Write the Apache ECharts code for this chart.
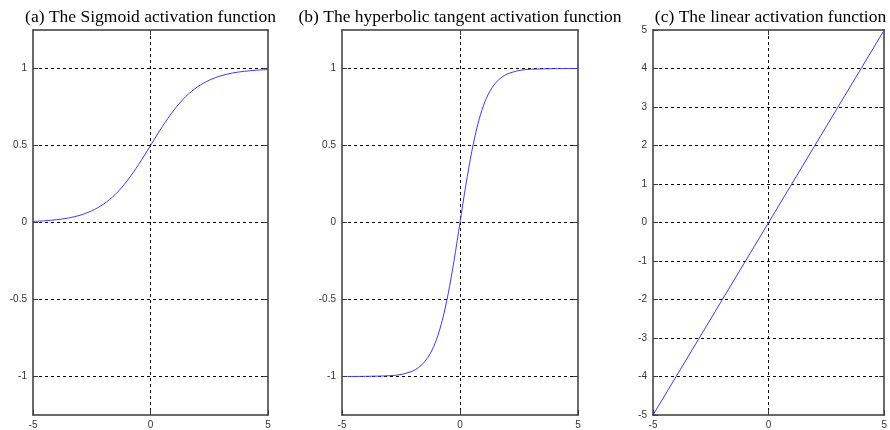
<!DOCTYPE html>
<html>
<head>
<meta charset="utf-8">
<script src="https://cdn.jsdelivr.net/npm/echarts@6/dist/echarts.min.js"></script>
<style>
  html, body { margin: 0; padding: 0; background: #fff; }
  #chart { width: 890px; height: 430px; }
</style>
</head>
<body>
<div id="chart"></div>
<script>
// Panel titles
const titles = [
  '(a) The Sigmoid activation function',
  '(b) The hyperbolic tangent activation function',
  '(c) The linear activation function'
];

// Shared x ticks
const xTicks = [-5, 0, 5];

// (a) sigmoid curve samples
const sigmoidX = [-5, -4.5, -4, -3.5, -3, -2.5, -2, -1.5, -1, -0.5, 0, 0.5, 1, 1.5, 2, 2.5, 3, 3.5, 4, 4.5, 5];
const sigmoidY = [0.007, 0.011, 0.018, 0.029, 0.047, 0.076, 0.119, 0.182, 0.269, 0.378, 0.5,
                  0.622, 0.731, 0.818, 0.881, 0.924, 0.953, 0.971, 0.982, 0.989, 0.993];
const sigmoidYTicks = [-1, -0.5, 0, 0.5, 1];

// (b) tanh curve samples
const tanhX = [-5, -4, -3, -2.5, -2, -1.75, -1.5, -1.25, -1, -0.75, -0.5, -0.25, 0,
               0.25, 0.5, 0.75, 1, 1.25, 1.5, 1.75, 2, 2.5, 3, 4, 5];
const tanhY = [-1, -0.999, -0.995, -0.987, -0.964, -0.941, -0.905, -0.848, -0.762, -0.635, -0.462, -0.245, 0,
               0.245, 0.462, 0.635, 0.762, 0.848, 0.905, 0.941, 0.964, 0.987, 0.995, 0.999, 1];
const tanhYTicks = [-1, -0.5, 0, 0.5, 1];

// (c) linear function end points
const linearX = [-5, 5];
const linearY = [-5, 5];
const linearYTicks = [-5, -4, -3, -2, -1, 0, 1, 2, 3, 4, 5];

const LINE_COLOR = '#3b3bff';
const FRAME = '#3a3a3a';
const LABEL_FONT = { fontFamily: 'Liberation Sans, Arial, sans-serif', fontSize: 10, color: '#333' };
const DASH = { color: '#000', type: [3, 3], width: 1 };

const grids = [
  { left: 33, top: 30, width: 235, height: 387 },
  { left: 342, top: 30, width: 236, height: 387 },
  { left: 653, top: 30, width: 235, height: 386 }
];

function pairs(xs, ys) { return xs.map((x, i) => [x, ys[i]]); }
function inner(ticks, min, max) { return ticks.filter(v => v > min && v < max); }

const xAxes = [];
const yAxes = [];
const yRanges = [[-1.25, 1.25, sigmoidYTicks], [-1.25, 1.25, tanhYTicks], [-5, 5, linearYTicks]];

grids.forEach((g, i) => {
  // bottom axis: frame edge, tick labels
  xAxes.push({
    type: 'value', gridIndex: i, min: -5, max: 5, position: 'bottom', z: 5,
    axisLine: { show: true, onZero: false, lineStyle: { color: FRAME, width: 1.5 } },
    axisTick: { show: true, inside: true, length: 5, customValues: xTicks, lineStyle: { color: FRAME } },
    axisLabel: Object.assign({ customValues: xTicks, margin: 5 }, LABEL_FONT),
    splitLine: { show: false }
  });
  // top axis: frame edge, dashed grid lines away from the edges
  xAxes.push({
    type: 'value', gridIndex: i, min: -5, max: 5, position: 'top', z: 1,
    axisLine: { show: true, onZero: false, lineStyle: { color: FRAME, width: 1.5 } },
    axisTick: { show: true, inside: true, length: 5, customValues: inner(xTicks, -5, 5), lineStyle: { color: FRAME } },
    axisLabel: { show: false },
    splitLine: { show: true, lineStyle: DASH }
  });
  const [mn, mx, ticks] = yRanges[i];
  // left axis: frame edge, tick labels
  yAxes.push({
    type: 'value', gridIndex: i, min: mn, max: mx, position: 'left', z: 5,
    axisLine: { show: true, onZero: false, lineStyle: { color: FRAME, width: 1.5 } },
    axisTick: { show: true, inside: true, length: 5, customValues: ticks, lineStyle: { color: FRAME } },
    axisLabel: Object.assign({ customValues: ticks, margin: 6 }, LABEL_FONT),
    splitLine: { show: false }
  });
  // right axis: frame edge, dashed grid lines away from the edges
  yAxes.push({
    type: 'value', gridIndex: i, min: mn, max: mx, position: 'right', z: 1,
    axisLine: { show: true, onZero: false, lineStyle: { color: FRAME, width: 1.5 } },
    axisTick: { show: true, inside: true, length: 5, customValues: inner(ticks, mn, mx), lineStyle: { color: FRAME } },
    axisLabel: { show: false },
    splitLine: { show: true, lineStyle: DASH }
  });
});

const curves = [pairs(sigmoidX, sigmoidY), pairs(tanhX, tanhY), pairs(linearX, linearY)];

const option = {
  animation: false,
  backgroundColor: '#fff',
  title: titles.map((t, i) => ({
    text: t,
    left: grids[i].left + grids[i].width / 2 - 5,
    textAlign: 'center',
    top: 3,
    textStyle: { fontFamily: 'Liberation Serif, Times New Roman, serif', fontSize: 17.5, fontWeight: 'normal', color: '#000' }
  })),
  grid: grids.map(g => Object.assign({ show: false, containLabel: false }, g)),
  xAxis: xAxes,
  yAxis: yAxes,
  series: curves.map((d, i) => ({
    type: 'line', xAxisIndex: i * 2, yAxisIndex: i * 2, data: d,
    smooth: i < 2 ? 0.3 : false, showSymbol: false, z: 3,
    lineStyle: { color: LINE_COLOR, width: 1 }
  }))
};

const chart = echarts.init(document.getElementById('chart'), null, { renderer: 'canvas' });
chart.setOption(option);
</script>
</body>
</html>
